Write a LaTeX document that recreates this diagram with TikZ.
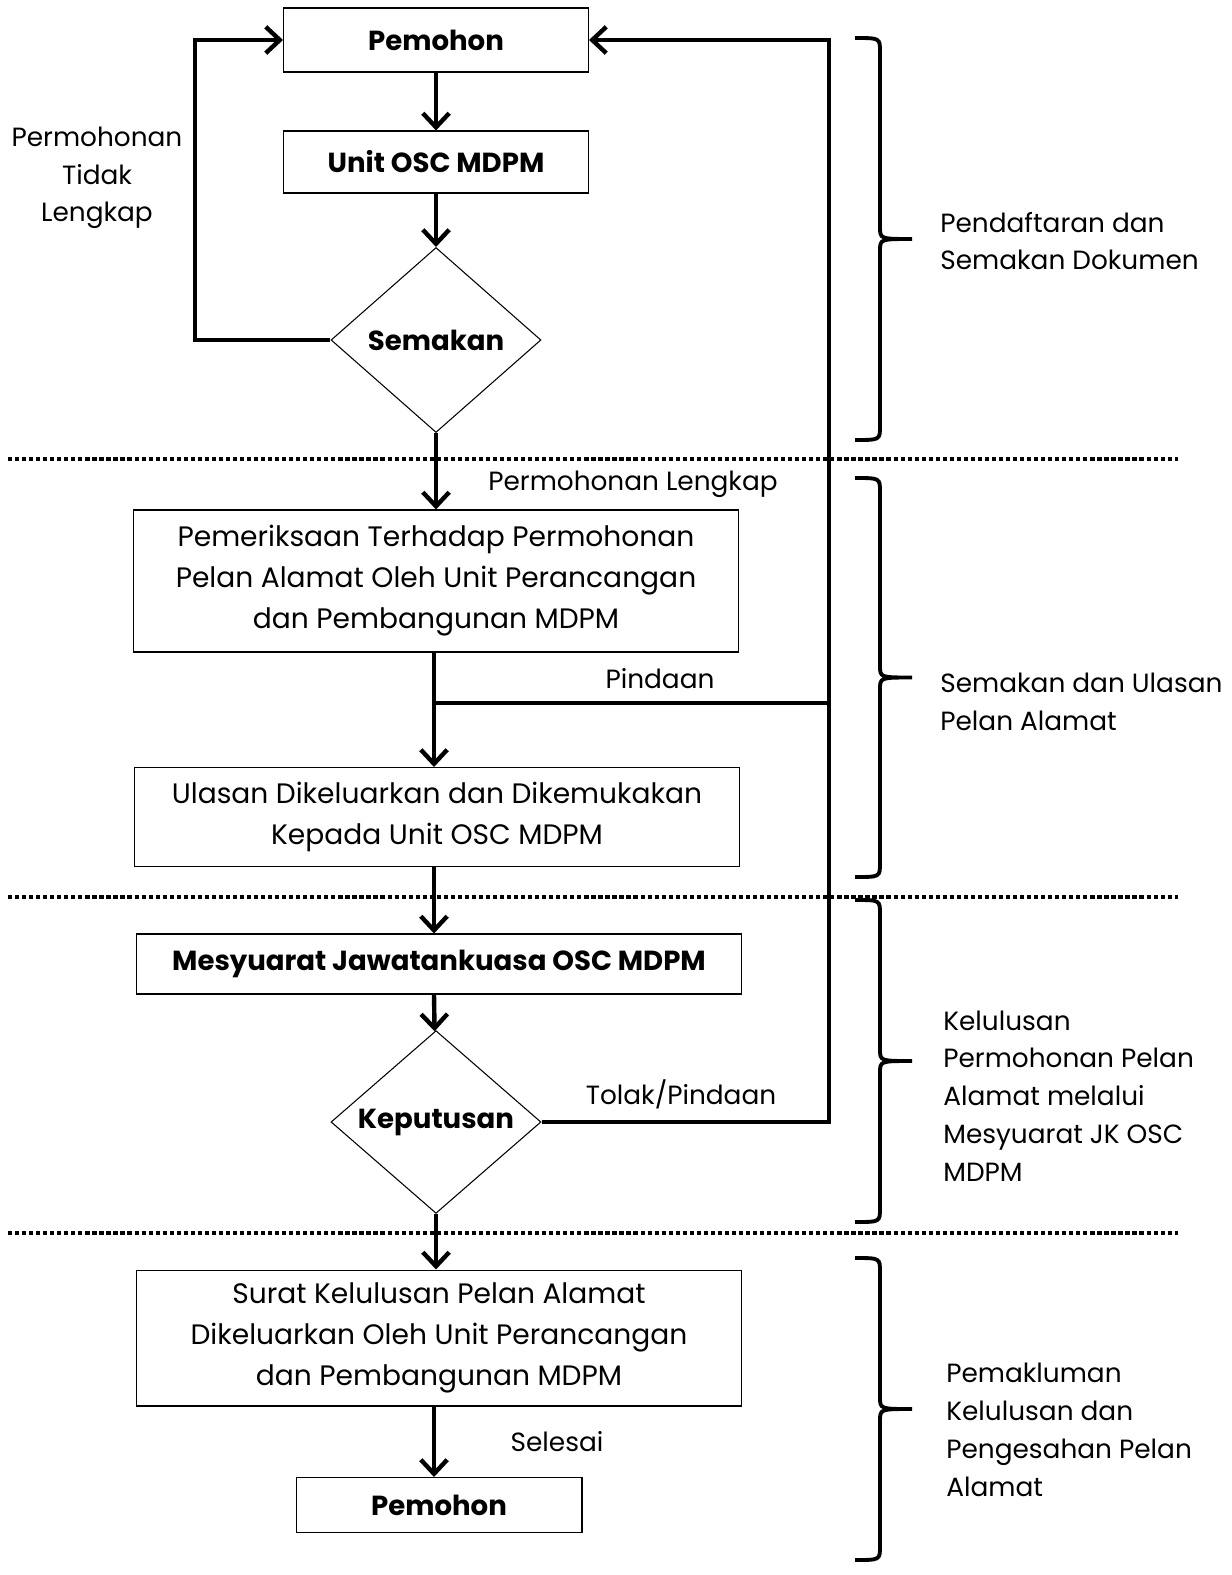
\documentclass[tikz,border=0pt]{standalone}
\usepackage{fontspec}
\setmainfont{Poppins}
\usepackage{tikz}
\usetikzlibrary{arrows.meta}
\usetikzlibrary{shapes.geometric}

% kurungan fasa: y atas, y bawah
\newcommand{\kurungan}[2]{%
	\pgfmathsetmacro{\tengah}{(#1+#2)/2}
	\draw[phase] (855,#1) .. controls (880,#1) .. (880,#1+14) -- (880,\tengah-12)
		.. controls (880,\tengah) .. (912,\tengah) .. controls (880,\tengah) .. (880,\tengah+12)
		-- (880,#2-14) .. controls (880,#2) .. (855,#2);}

\begin{document}
\begin{tikzpicture}[x=0.02cm,y=-0.02cm,
	box/.style={draw,line width=0.6pt,inner sep=2pt,align=center,minimum width=12.1cm},
	smallbox/.style={box,minimum width=6.1cm,font=\fontsize{15.7}{20}\selectfont\bfseries},
	decide/.style={draw,diamond,line width=0.6pt,inner sep=0pt,minimum width=4.2cm,font=\fontsize{15.7}{20}\selectfont\bfseries},
	flow/.style={line width=2.5pt,-{Straight Barb[length=8pt,width=15pt,line width=2.5pt]}},
	link/.style={line width=2.5pt},
	sepline/.style={line width=2.8pt,dash pattern=on 2.4pt off 1.6pt},
	phase/.style={line width=2.2pt},
	phasetext/.style={anchor=west,align=left,inner sep=0pt,font=\fontsize{15}{21.5}\selectfont},
	tag/.style={align=center,font=\fontsize{15}{21.5}\selectfont}
	]
	\useasboundingbox (0,0) rectangle (1231,1575);
	\fontsize{16}{23.3}\selectfont
	%%%%%%%%%%%%%%%
	\node[smallbox,minimum height=1.28cm] (pemohon) at (436,40) {Pemohon};
	\node[smallbox,minimum height=1.24cm] (unit) at (436,162) {Unit OSC MDPM};
	\node[decide,minimum height=3.7cm] (semakan) at (436,340) {Semakan};
	\node[box,minimum height=2.84cm] (periksa) at (436,581) {Pemeriksaan Terhadap Permohonan\\Pelan Alamat Oleh Unit Perancangan\\dan Pembangunan MDPM};
	\node[box,minimum height=1.98cm] (ulasan) at (437,817) {Ulasan Dikeluarkan dan Dikemukakan\\Kepada Unit OSC MDPM};
	\node[box,minimum height=1.2cm,font=\fontsize{15.7}{20}\selectfont\bfseries] (mesyuarat) at (439,964) {Mesyuarat Jawatankuasa OSC MDPM};
	\node[decide,minimum height=3.52cm] (keputusan) at (436,1122) {Keputusan};
	\node[box,minimum height=2.72cm] (surat) at (439,1338) {Surat Kelulusan Pelan Alamat\\Dikeluarkan Oleh Unit Perancangan\\dan Pembangunan MDPM};
	\node[smallbox,minimum width=5.72cm,minimum height=1.1cm] (selesai) at (439,1505) {Pemohon};
	%%%%%%%%%%%%%%%
	\coordinate (loop) at (195,40);
	\coordinate (balikA) at (829,40);
	\coordinate (balikB) at (829,703);
	\coordinate (balikC) at (829,1122);
	\coordinate (cabang) at (434,703);
	%%%%%%%%%%%%%%%
	\draw[flow] (pemohon) -- (unit);
	\draw[flow] (unit) -- (semakan);
	\draw[flow] (semakan.west) -| (loop) -- (pemohon.west);
	\draw[flow] (semakan.south) -- (semakan.south |- periksa.north);
	\draw[flow] (cabang |- periksa.south) -- (cabang |- ulasan.north);
	\draw[link] (cabang) -- (balikB);
	\draw[flow] (cabang |- ulasan.south) -- (cabang |- mesyuarat.north);
	\draw[flow] (cabang |- mesyuarat.south) -- (keputusan);
	\draw[flow] (keputusan.east) -- (balikC) -- (balikA) -- (pemohon.east);
	\draw[flow] (keputusan.south) -- (keputusan.south |- surat.north);
	\draw[flow] (cabang |- surat.south) -- (cabang |- selesai.north);
	%%%%%%%%%%%%%%%
	\node[tag] (tidak) at (97,178) {Permohonan\\Tidak\\Lengkap};
	\node[tag] (lengkap) at (633,484) {Permohonan Lengkap};
	\node[tag] (pindaan) at (660,679) {Pindaan};
	\node[tag] (tolak) at (681,1094) {Tolak/Pindaan};
	\node[tag] (siap) at (557,1442) {Selesai};
	%%%%%%%%%%%%%%%
	\foreach \y in {459,897,1233}
		\draw[sepline] (8,\y) -- (1178,\y);
	%%%%%%%%%%%%%%%
	\kurungan{38}{440}
	\kurungan{478}{877}
	\kurungan{900}{1222}
	\kurungan{1258}{1560}
	\node[phasetext] (fasa1) at (940,241) {Pendaftaran dan\\Semakan Dokumen};
	\node[phasetext] (fasa2) at (940,702) {Semakan dan Ulasan\\Pelan Alamat};
	\node[phasetext] (fasa3) at (943,1096) {Kelulusan\\Permohonan Pelan\\Alamat melalui\\Mesyuarat JK OSC\\MDPM};
	\node[phasetext] (fasa4) at (946,1430) {Pemakluman\\Kelulusan dan\\Pengesahan Pelan\\Alamat};
\end{tikzpicture}
\end{document}
